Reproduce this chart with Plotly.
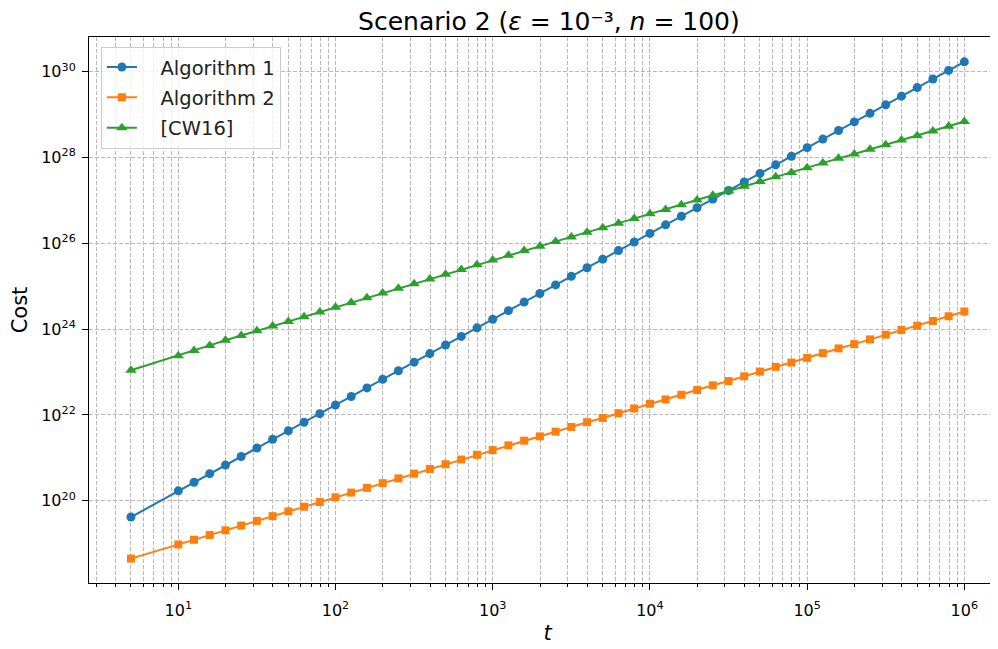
import plotly.graph_objects as go

# log10(t) positions of the samples
t_exp = [0.699, 1.0, 1.1, 1.2, 1.3, 1.4, 1.5, 1.6, 1.7, 1.8, 1.9,
         2.0, 2.1, 2.2, 2.3, 2.4, 2.5, 2.6, 2.7, 2.8, 2.9,
         3.0, 3.1, 3.2, 3.3, 3.4, 3.5, 3.6, 3.7, 3.8, 3.9,
         4.0, 4.1, 4.2, 4.3, 4.4, 4.5, 4.6, 4.7, 4.8, 4.9,
         5.0, 5.1, 5.2, 5.3, 5.4, 5.5, 5.6, 5.7, 5.8, 5.9, 6.0]

# log10(cost)
alg1_exp = [19.62, 20.23, 20.43, 20.63, 20.83, 21.03, 21.23, 21.43, 21.63, 21.83, 22.03,
            22.23, 22.43, 22.63, 22.83, 23.03, 23.23, 23.43, 23.63, 23.83, 24.03,
            24.23, 24.43, 24.63, 24.83, 25.03, 25.23, 25.43, 25.63, 25.83, 26.03,
            26.23, 26.43, 26.63, 26.83, 27.03, 27.23, 27.43, 27.63, 27.83, 28.03,
            28.23, 28.43, 28.63, 28.83, 29.03, 29.23, 29.43, 29.63, 29.83, 30.03, 30.23]

alg2_exp = [18.65, 18.98, 19.09, 19.20, 19.31, 19.42, 19.53, 19.64, 19.75, 19.86, 19.97,
            20.08, 20.19, 20.30, 20.41, 20.52, 20.63, 20.74, 20.85, 20.96, 21.07,
            21.18, 21.29, 21.40, 21.50, 21.61, 21.72, 21.83, 21.93, 22.04, 22.15,
            22.26, 22.36, 22.47, 22.58, 22.69, 22.79, 22.90, 23.01, 23.12, 23.22,
            23.33, 23.44, 23.55, 23.65, 23.76, 23.87, 23.98, 24.08, 24.19, 24.30, 24.41]

cw16_exp = [23.04, 23.38, 23.50, 23.62, 23.74, 23.85, 23.96, 24.07, 24.18, 24.29, 24.40,
            24.51, 24.62, 24.73, 24.84, 24.95, 25.06, 25.17, 25.28, 25.39, 25.50,
            25.61, 25.72, 25.83, 25.93, 26.04, 26.15, 26.26, 26.36, 26.47, 26.58,
            26.69, 26.79, 26.90, 27.01, 27.12, 27.22, 27.33, 27.44, 27.55, 27.65,
            27.76, 27.87, 27.98, 28.08, 28.19, 28.30, 28.41, 28.51, 28.62, 28.73, 28.84]

x_major = [1, 2, 3, 4, 5, 6]
y_major = [20, 22, 24, 26, 28, 30]
x_minor_mult = [2, 3, 4, 5, 6, 7, 8, 9]

t = [10.0 ** e for e in t_exp]
alg1 = [10.0 ** e for e in alg1_exp]
alg2 = [10.0 ** e for e in alg2_exp]
cw16 = [10.0 ** e for e in cw16_exp]

FONT = "DejaVu Sans"
GRID = "#b8b8b8"
PAD = "\u00a0\u00a0\u00a0"

fig = go.Figure()
series = [
    ("Algorithm 1", alg1, "#1f77b4", "circle", 9),
    ("Algorithm 2", alg2, "#ff7f0e", "square", 8),
    ("[CW16]", cw16, "#2ca02c", "triangle-up", 10),
]
for i, (name, vals, col, sym, msize) in enumerate(series):
    fig.add_trace(go.Scatter(
        x=t, y=vals, name=PAD + name, mode="lines+markers",
        line=dict(color=col, width=2),
        marker=dict(symbol=sym, size=msize, color=col, line=dict(width=0)),
        legendgroup=f"g{i}",
    ))

minor_vals = [float(m) * 10.0 ** d for d in range(0, 7) for m in x_minor_mult]

fig.update_layout(
    width=998, height=649,
    margin=dict(l=81, r=0, t=29, b=74, autoexpand=False),
    paper_bgcolor="white", plot_bgcolor="white",
    font=dict(family=FONT, color="black"),
    title=dict(
        text="Scenario 2 (<i>ε</i> = 10⁻³, <i>n</i> = 100)",
        font=dict(family=FONT, size=25, color="black"),
        xref="container", x=0.542, xanchor="center",
        yref="container", y=0.979, yanchor="middle",
    ),
    showlegend=True,
    legend=dict(
        x=0.013, y=0.982, xanchor="left", yanchor="top",
        bgcolor="rgba(255,255,255,0.8)", bordercolor="#cccccc", borderwidth=1,
        font=dict(family=FONT, size=19.5, color="#222222"),
        tracegroupgap=2, traceorder="grouped",
    ),
)

fig.update_xaxes(
    type="log", range=[0.432, 6.265], automargin=False,
    tickmode="array", tickvals=[10.0 ** k for k in x_major],
    ticktext=[f"10<sup>{k}</sup>" for k in x_major],
    ticks="outside", ticklen=6, tickwidth=1, tickcolor="black",
    ticklabelstandoff=7,
    tickfont=dict(family=FONT, size=16, color="black"),
    showline=True, linecolor="black", linewidth=1, mirror=True,
    showgrid=True, gridcolor=GRID, gridwidth=1, griddash="4px,2px",
    zeroline=False,
    minor=dict(tickmode="array", tickvals=minor_vals, ticks="outside", ticklen=3,
               tickwidth=1, tickcolor="black", showgrid=True, gridcolor=GRID,
               gridwidth=1, griddash="4px,2px"),
    title=dict(text="<i>t</i>", font=dict(family=FONT, size=21, color="black"), standoff=6),
)

fig.update_yaxes(
    type="log", range=[18.082, 30.809], automargin=False,
    tickmode="array", tickvals=[10.0 ** k for k in y_major],
    ticktext=[f"10<sup>{k}</sup>" for k in y_major],
    ticks="outside", ticklen=6, tickwidth=1, tickcolor="black",
    ticklabelstandoff=3,
    tickfont=dict(family=FONT, size=16, color="black"),
    showline=True, linecolor="black", linewidth=1, mirror=False,
    showgrid=True, gridcolor=GRID, gridwidth=1, griddash="4px,2px",
    zeroline=False,
    title=dict(text="Cost", font=dict(family=FONT, size=21, color="black"), standoff=8),
)

fig.write_html("out.html")
